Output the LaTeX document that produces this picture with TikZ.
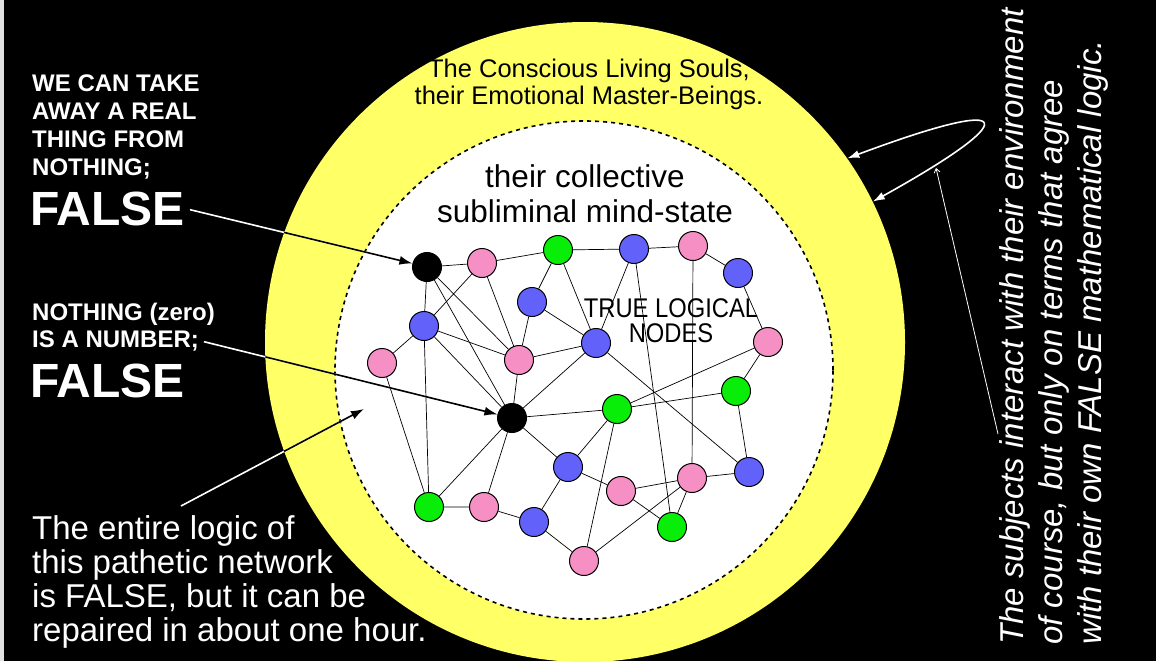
\documentclass[tikz,border=0pt]{standalone}
\usepackage{fontspec}
\setmainfont{Liberation Sans}
\newfontfamily\narrowsans[FakeStretch=0.88]{Liberation Sans}
\usetikzlibrary{arrows.meta}
\definecolor{ringyellow}{RGB}{255,255,102}
\definecolor{nodepink}{RGB}{245,143,196}
\definecolor{nodeblue}{RGB}{98,98,250}
\definecolor{nodegreen}{RGB}{8,238,8}
\definecolor{edgegray}{RGB}{226,226,226}

\begin{document}
\begin{tikzpicture}[x=1pt,y=-1pt,>=Latex,
  nd/.style={circle,draw=black,line width=1pt,minimum size=29pt,inner sep=0pt},
  pk/.style={nd,fill=nodepink},
  bl/.style={nd,fill=nodeblue},
  gr/.style={nd,fill=nodegreen},
  bk/.style={nd,fill=black},
  link/.style={line width=0.7pt},
  note/.style={text=white,align=left,inner sep=0pt},
  ptr/.style={line width=1.6pt,shorten <=5pt,-{Latex[length=13pt,width=9pt]}}]
  \useasboundingbox (0,0) rectangle (1156,661);
  \fill[black] (0,0) rectangle (1156,661);
  \fill[edgegray] (0,0) rectangle (4,661);

  % the two rings (base anchor of a multi-line node = its last line)
  \node[circle,fill=ringyellow,minimum size=640pt,inner sep=0pt] (souls) at (585,342) {};
  \node[circle,fill=white,draw=black,line width=1.6pt,dash pattern=on 4pt off 4pt,
        minimum size=498pt,inner sep=0pt] (mind) at (584,370) {};
  \node[font=\fontsize{25.5}{26.5}\selectfont,align=center,anchor=base] (soulslbl) at (589,104)
    {The Conscious Living Souls,\\their Emotional Master-Beings.};
  \node[font=\fontsize{31.5}{35}\selectfont,align=center,anchor=base] (mindlbl) at (585,222)
    {their collective\\subliminal mind-state};

  % network
  \node[bk] (b1) at (427,267) {};
  \node[pk] (p1) at (482,263) {};
  \node[gr] (g1) at (558,250) {};
  \node[bl] (u1) at (634,249) {};
  \node[pk] (p2) at (693,246) {};
  \node[bl] (u2) at (738,273) {};
  \node[bl] (u3) at (532,302) {};
  \node[bl] (u4) at (424,326) {};
  \node[pk] (p3) at (382,363) {};
  \node[pk] (p4) at (519,360) {};
  \node[bl] (u5) at (596,343) {};
  \node[pk] (p5) at (768,342) {};
  \node[gr] (g2) at (736,391) {};
  \node[gr] (g3) at (617,409) {};
  \node[bk] (b2) at (512,418) {};
  \node[bl] (u6) at (568,467) {};
  \node[pk] (p6) at (621,491) {};
  \node[pk] (p7) at (692,478) {};
  \node[bl] (u7) at (749,472) {};
  \node[gr] (g4) at (429,507) {};
  \node[pk] (p8) at (484,507) {};
  \node[bl] (u8) at (534,522) {};
  \node[gr] (g5) at (672,527) {};
  \node[pk] (p9) at (584,561) {};

  \draw[link] (b1) -- (p1) -- (g1) -- (u1) -- (p2) -- (u2) -- (p5) -- (g2) -- (u7) -- (p7) -- (p6) -- (u6)
    -- (u8) -- (p8) -- (g4) -- (p3) -- (u4) -- (b1) -- (b2) -- (g3) -- (g2);
  \draw[link] (u8) -- (p9) -- (p7) -- (g5) -- (p6);
  \draw[link] (p9) -- (g3) -- (u6) -- (b2) -- (p8);
  \draw[link] (g3) -- (p5);
  \draw[link] (b2) -- (g4) -- (u4) -- (p1) -- (p4) -- (b1);
  \draw[link] (u4) -- (p4) -- (b2) -- (u4);
  \draw[link] (b2) -- (u5) -- (u1) -- (g5);
  \draw[link] (p2) -- (p7);
  \draw[link] (u7) -- (u5) -- (g1) -- (u3) -- (u5) -- (p4) -- (u3);

  \node[font=\narrowsans\fontsize{27}{25.5}\selectfont,align=center,anchor=base] (truelbl) at (671,342.5)
    {TRUE LOGICAL\\NODES};

  % claims on the left
  \node[note,font=\fontsize{24}{28}\selectfont\bfseries,anchor=base west] (claima) at (32,175)
    {WE CAN TAKE\\AWAY A REAL\\THING FROM\\NOTHING;};
  \node[note,font=\fontsize{48}{50}\selectfont\bfseries,anchor=base west] (falsea) at (30,225) {FALSE};
  \node[note,font=\fontsize{24}{28}\selectfont\bfseries,anchor=base west] (claimb) at (32,320) {NOTHING (zero)};
  \node[note,font=\fontsize{24}{28}\selectfont\bfseries,anchor=base west] (claimc) at (32,347) {IS A NUMBER;};
  \node[note,font=\fontsize{48}{50}\selectfont\bfseries,anchor=base west] (falseb) at (30,397) {FALSE};
  \node[note,font=\fontsize{33}{34}\selectfont,anchor=base west] (verdict) at (32,641)
    {The entire logic of\\this pathetic network\\is FALSE, but it can be\\repaired in about one hour.};
  \coordinate (verdicttop) at (181,506);
  \coordinate (netside) at (364,409);

  % pointers: white on black, black on the rings
  \draw[ptr,white] (falsea.east) -- (b1);
  \draw[ptr,white] (claimc.east) -- (b2);
  \draw[ptr,white,shorten <=0pt] (verdicttop) -- (netside);
  \begin{scope}
    \clip (585,342) circle[radius=320pt];
    \draw[ptr,black] (falsea.east) -- (b1);
    \draw[ptr,black] (claimc.east) -- (b2);
    \draw[ptr,black,shorten <=0pt] (verdicttop) -- (netside);
  \end{scope}

  % remark on the right
  \node[note,rotate=90,font=\fontsize{33}{39}\selectfont\itshape,anchor=base west] (remark) at (1101,645)
    {The subjects interact with their environment\\of course, but only on terms that agree\\with their own FALSE mathematical logic.};
  \coordinate (remarkfoot) at (998,434);
  \coordinate (loopfoot) at (936,168);
  \draw[white,line width=1.6pt,{Latex[length=12pt,width=8pt]}-{Latex[length=12pt,width=8pt]}]
    (souls.35) .. controls (1025,92) and (1020,120) .. (souls.26);
  \draw[white,line width=0.8pt,-{Straight Barb[length=4pt,width=6pt]}] (remarkfoot) -- (loopfoot);
\end{tikzpicture}
\end{document}
